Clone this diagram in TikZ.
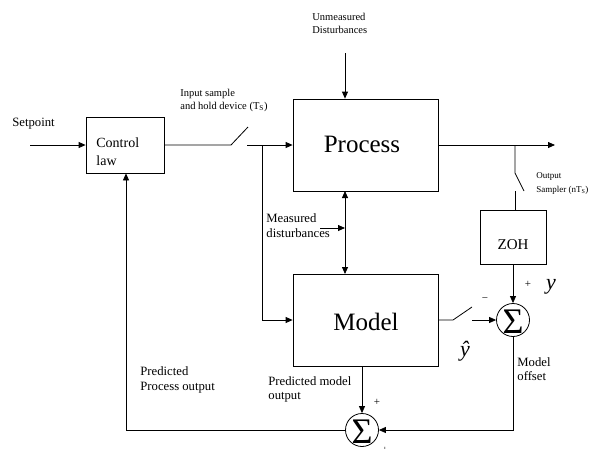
\documentclass[tikz,border=0pt]{standalone}
\usepackage{fontspec}
\setmainfont{Liberation Serif}
\usetikzlibrary{arrows.meta}
\begin{document}
\begin{tikzpicture}[x=1pt,y=-1pt,
  line width=0.8pt,
  >={Triangle[length=7pt,width=6pt]},
  block/.style={draw, inner sep=0pt},
  txt/.style={inner sep=0pt, anchor=base west},
  ctxt/.style={inner sep=0pt, anchor=base},
  tiny/.style={font=\fontsize{9}{10}\selectfont},
  small/.style={font=\fontsize{10.5}{12}\selectfont},
  mid/.style={font=\fontsize{12.7}{15}\selectfont},
  big/.style={font=\fontsize{25}{30}\selectfont},
  sumnode/.style={draw, circle, minimum size=33pt, inner sep=0pt},
  sigma/.style={inner sep=0pt, font=\fontsize{36}{36}\selectfont},
  sign/.style={inner sep=0pt, font=\fontsize{11}{12}\selectfont},
  var/.style={inner sep=0pt, anchor=base, font=\fontsize{22}{24}\selectfont\itshape}
]
\useasboundingbox (0,0) rectangle (605,448);
\fill[white] (0,0) rectangle (605,448);

% blocks
\node[block, minimum width=78pt, minimum height=56pt] (ctrl) at (125,145) {};
\node[block, minimum width=145pt, minimum height=92pt] (proc) at (365.5,145) {};
\node[block, minimum width=145pt, minimum height=92pt] (model) at (365.5,320) {};
\node[block, minimum width=66pt, minimum height=54pt] (zoh) at (513,237) {};
\node[sumnode] (s1) at (513,320) {};
\node[sumnode] (s2) at (362,430) {};

% block texts
\node[txt, font=\fontsize{14}{18}\selectfont] (ctrlA) at (96,147) {Control};
\node[txt, font=\fontsize{14}{18}\selectfont] (ctrlB) at (96,165) {law};
\node[ctxt, big] (procT) at (362,152) {Process};
\node[ctxt, big] (modelT) at (366,330) {Model};
\node[ctxt, font=\fontsize{15}{18}\selectfont] (zohT) at (513,249) {ZOH};
\node[sigma] (s1T) at (513,322) {Σ};
\node[sigma] (s2T) at (362,432) {Σ};

% coordinates
\coordinate (spA) at (30,145);
\coordinate (swAa) at (231,145);
\coordinate (swAb) at (248,127);
\coordinate (swAc) at (247,145);
\coordinate (jA) at (262,145);
\coordinate (jAd) at (262,320);
\coordinate (udA) at (345,53);
\coordinate (mdTop) at (345,191);
\coordinate (mdBot) at (345,274);
\coordinate (mdIn) at (320,228);
\coordinate (mdHit) at (345,228);
\coordinate (jB) at (515,145);
\coordinate (outE) at (555,145);
\coordinate (swBa) at (515,173);
\coordinate (swBb) at (524,191);
\coordinate (swBc) at (515,191);
\coordinate (swCa) at (453,320);
\coordinate (swCb) at (472,307);
\coordinate (swCc) at (472,320);
\coordinate (offC) at (513,430);
\coordinate (fbC) at (126,430);
\coordinate (mpTop) at (362,366);

% connectors
\draw[->] (spA) -- (ctrl.west);
\draw (ctrl.east) -- (swAa) -- (swAb);
\draw[->] (swAc) -- (proc.west);
\draw[->] (jA) -- (jAd) -- (model.west);
\draw[->] (udA) -- (proc.north -| udA);
\draw[<->] (mdTop) -- (mdBot);
\draw[->] (mdIn) -- (mdHit);
\draw[->] (proc.east) -- (outE);
\draw (jB) -- (swBa) -- (swBb);
\draw (swBc) -- (zoh.north -| swBc);
\draw[->] (zoh.south) -- (s1.north);
\draw (model.east) -- (swCa) -- (swCb);
\draw[->] (swCc) -- (s1.west);
\draw[->] (mpTop) -- (s2.north);
\draw[->] (s1.south) -- (offC) -- (s2.east);
\draw[->] (s2.west) -- (fbC) -- (ctrl.south -| fbC);

% labels
\node[txt, mid] (spT) at (12,126) {Setpoint};
\node[txt, small] (inA) at (180,96) {Input sample};
\node[txt, small] (inB) at (180,109) {and hold device (T\textsubscript{S})};
\node[txt, small] (udT1) at (312,20) {Unmeasured};
\node[txt, small] (udT2) at (312,33) {Disturbances};
\node[txt, tiny] (osA) at (536,178) {Output};
\node[txt, tiny] (osB) at (536,192) {Sampler (nT\textsubscript{S})};
\node[txt, mid] (mdA) at (266,222) {Measured};
\node[txt, mid] (mdB) at (266,237) {disturbances};
\node[txt, mid] (ppA) at (140,375) {Predicted};
\node[txt, mid] (ppB) at (140,390) {Process output};
\node[txt, mid] (pmA) at (268,385) {Predicted model};
\node[txt, mid] (pmB) at (268,399) {output};
\node[txt, mid] (moA) at (517,366) {Model};
\node[txt, mid] (moB) at (517,380) {offset};
\node[sign, anchor=center] (p1) at (528,284) {+};
\node[sign, anchor=center] (m1) at (485,300) {−};
\node[sign, anchor=center] (p2) at (377,402) {+};
\node[sign, anchor=center] (p3) at (385,450) {+};
\node[var] (yT) at (551,289) {y};
\node[var] (yhT) at (465,356) {ŷ};
\end{tikzpicture}
\end{document}
